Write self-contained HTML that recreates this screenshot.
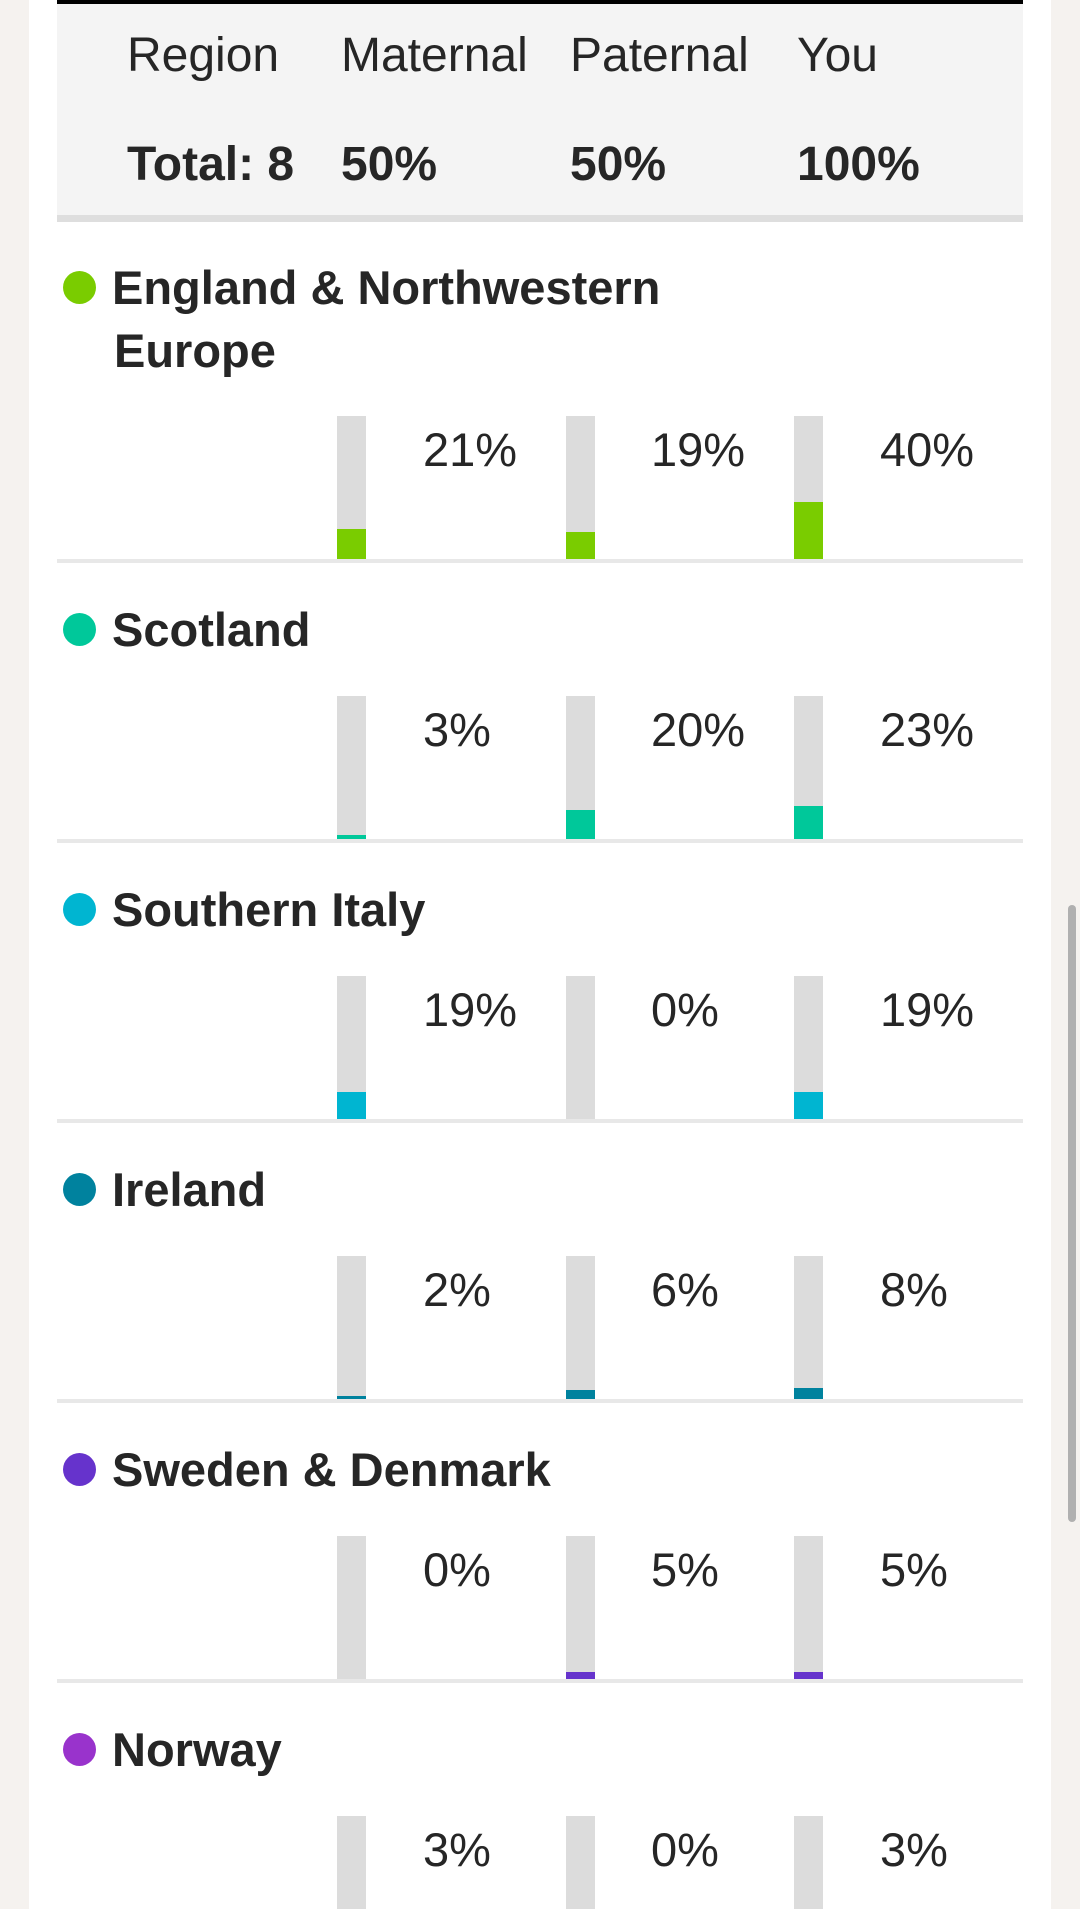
<!DOCTYPE html>
<html><head><meta charset="utf-8"><style>
*{margin:0;padding:0;box-sizing:border-box}
html,body{width:1080px;height:1909px;overflow:hidden}
body{background:#f5f2ef;font-family:"Liberation Sans",sans-serif;color:#262626}
.wrap{position:absolute;left:0;top:0;width:1080px;height:1909px;overflow:hidden}
.card{position:absolute;left:29px;top:0;width:1022px;height:1909px;background:#fff}
.a{position:absolute}
.t{position:absolute;font-size:48px;line-height:48px;white-space:nowrap}
.p{font-size:47px}
.h{font-size:47px;font-weight:bold}
.b{font-weight:bold}
.bar{position:absolute;width:29px;height:143px;background:#dcdcdc}
.bar i{position:absolute;left:0;bottom:0;width:29px;display:block}
.sep{position:absolute;left:57px;width:966px;height:4px;background:#e8e8e8}
.dot{position:absolute;width:33px;height:33px;border-radius:50%}
</style></head><body><div class="wrap">
<div class="card"></div>
<div class="a" style="left:57px;top:0;width:966px;height:4px;background:#000"></div>
<div class="a" style="left:57px;top:4px;width:966px;height:211px;background:#f4f4f4"></div>
<div class="a" style="left:57px;top:215px;width:966px;height:7px;background:#dedede"></div>
<div class="t" style="left:127px;top:32px">Region</div>
<div class="t" style="left:341px;top:32px">Maternal</div>
<div class="t" style="left:570px;top:32px">Paternal</div>
<div class="t" style="left:797px;top:32px">You</div>
<div class="t b" style="left:127px;top:141px">Total: 8</div>
<div class="t b" style="left:341px;top:141px">50%</div>
<div class="t b" style="left:570px;top:141px">50%</div>
<div class="t b" style="left:797px;top:141px">100%</div>

<div class="dot" style="left:63px;top:271px;background:#7acc00"></div>
<div class="t h" style="left:112px;top:264px">England &amp; Northwestern</div>
<div class="t h" style="left:114px;top:327px">Europe</div>
<div class="bar" style="left:337px;top:416px"><i style="height:30px;background:#7acc00"></i></div>
<div class="bar" style="left:566px;top:416px"><i style="height:27px;background:#7acc00"></i></div>
<div class="bar" style="left:794px;top:416px"><i style="height:57px;background:#7acc00"></i></div>
<div class="t p" style="left:423px;top:426px">21%</div>
<div class="t p" style="left:651px;top:426px">19%</div>
<div class="t p" style="left:880px;top:426px">40%</div>
<div class="sep" style="top:559px"></div>

<div class="dot" style="left:63px;top:613px;background:#00c89a"></div>
<div class="t h" style="left:112px;top:606px">Scotland</div>
<div class="bar" style="left:337px;top:696px"><i style="height:4px;background:#00c89a"></i></div>
<div class="bar" style="left:566px;top:696px"><i style="height:29px;background:#00c89a"></i></div>
<div class="bar" style="left:794px;top:696px"><i style="height:33px;background:#00c89a"></i></div>
<div class="t p" style="left:423px;top:706px">3%</div>
<div class="t p" style="left:651px;top:706px">20%</div>
<div class="t p" style="left:880px;top:706px">23%</div>
<div class="sep" style="top:839px"></div>

<div class="dot" style="left:63px;top:893px;background:#00b5d1"></div>
<div class="t h" style="left:112px;top:886px">Southern Italy</div>
<div class="bar" style="left:337px;top:976px"><i style="height:27px;background:#00b5d1"></i></div>
<div class="bar" style="left:566px;top:976px"></div>
<div class="bar" style="left:794px;top:976px"><i style="height:27px;background:#00b5d1"></i></div>
<div class="t p" style="left:423px;top:986px">19%</div>
<div class="t p" style="left:651px;top:986px">0%</div>
<div class="t p" style="left:880px;top:986px">19%</div>
<div class="sep" style="top:1119px"></div>

<div class="dot" style="left:63px;top:1173px;background:#00829e"></div>
<div class="t h" style="left:112px;top:1166px">Ireland</div>
<div class="bar" style="left:337px;top:1256px"><i style="height:3px;background:#00829e"></i></div>
<div class="bar" style="left:566px;top:1256px"><i style="height:9px;background:#00829e"></i></div>
<div class="bar" style="left:794px;top:1256px"><i style="height:11px;background:#00829e"></i></div>
<div class="t p" style="left:423px;top:1266px">2%</div>
<div class="t p" style="left:651px;top:1266px">6%</div>
<div class="t p" style="left:880px;top:1266px">8%</div>
<div class="sep" style="top:1399px"></div>

<div class="dot" style="left:63px;top:1453px;background:#6633cc"></div>
<div class="t h" style="left:112px;top:1446px">Sweden &amp; Denmark</div>
<div class="bar" style="left:337px;top:1536px"></div>
<div class="bar" style="left:566px;top:1536px"><i style="height:7px;background:#6633cc"></i></div>
<div class="bar" style="left:794px;top:1536px"><i style="height:7px;background:#6633cc"></i></div>
<div class="t p" style="left:423px;top:1546px">0%</div>
<div class="t p" style="left:651px;top:1546px">5%</div>
<div class="t p" style="left:880px;top:1546px">5%</div>
<div class="sep" style="top:1679px"></div>

<div class="dot" style="left:63px;top:1733px;background:#9933cc"></div>
<div class="t h" style="left:112px;top:1726px">Norway</div>
<div class="bar" style="left:337px;top:1816px"></div>
<div class="bar" style="left:566px;top:1816px"></div>
<div class="bar" style="left:794px;top:1816px"></div>
<div class="t p" style="left:423px;top:1826px">3%</div>
<div class="t p" style="left:651px;top:1826px">0%</div>
<div class="t p" style="left:880px;top:1826px">3%</div>

<div class="a" style="left:1068px;top:905px;width:8px;height:617px;border-radius:4px;background:#b0b0b0"></div>
</div></body></html>
